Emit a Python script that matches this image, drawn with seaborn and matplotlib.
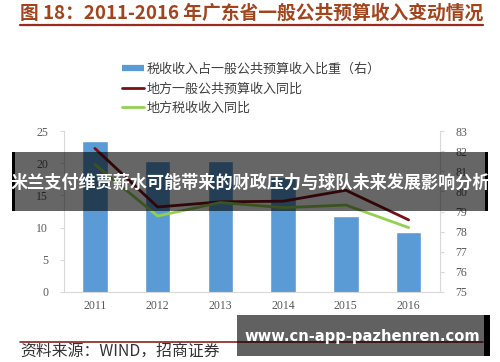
import numpy as np
import pandas as pd
import seaborn as sns
import matplotlib
matplotlib.use("Agg")
import matplotlib.pyplot as plt
from matplotlib.lines import Line2D
from matplotlib.patches import Rectangle

years = ["2011", "2012", "2013", "2014", "2015", "2016"]
tax_share = [82.5, 81.5, 81.5, 80.7, 78.8, 78.0]       # right axis, bars
general_yoy = [22.3, 13.2, 14.0, 14.1, 15.8, 11.2]     # left axis, dark red
tax_yoy = [19.8, 11.8, 13.9, 13.1, 13.5, 10.0]         # left axis, green
left_ticks = [0, 5, 10, 15, 20, 25]
right_ticks = [75, 76, 77, 78, 79, 80, 81, 82, 83]
legend_labels = ["税收收入占一般公共预算收入比重（右）", "地方一般公共预算收入同比", "地方税收收入同比"]
title = "图 18：2011-2016 年广东省一般公共预算收入变动情况"
source = "资料来源：WIND，招商证券"
banner = "米兰支付维贾薪水可能带来的财政压力与球队未来发展影响分析"
watermark = "www.cn-app-pazhenren.com"

df = pd.DataFrame({"year": years, "share": tax_share, "gen": general_yoy, "tax": tax_yoy})

sns.set_theme(style="white")
plt.rcParams["font.family"] = ["Noto Sans CJK SC", "DejaVu Sans"]

W, H = 500, 362
fig = plt.figure(figsize=(5, 3.62), dpi=100)
fig.patch.set_facecolor("white")

def fx(px):
    return px / W

def fy(py):
    return 1 - py / H

ax = fig.add_axes([fx(63.5), fy(292), fx(440) - fx(63.5), fy(131) - fy(292)])
ax2 = ax.twinx()

BLUE = "#5B9BD5"
RED = "#7A0F14"
GREEN = "#92D050"
GRAY = "#595959"
SPINE = "#D9D9D9"

sns.barplot(data=df, x="year", y="share", ax=ax2, color=BLUE, width=0.41,
            saturation=1, errorbar=None)
sns.pointplot(data=df, x="year", y="gen", ax=ax, color=RED, markersize=0,
              linewidth=2, errorbar=None)
sns.pointplot(data=df, x="year", y="tax", ax=ax, color=GREEN, markersize=0,
              linewidth=2, errorbar=None)

ax.set_zorder(ax2.get_zorder() + 1)
ax.patch.set_visible(False)

ax.set_xlim(-0.5, 5.5)
ax.set_ylim(0, 25)
ax2.set_ylim(75, 83)
ax.set_yticks(left_ticks)
ax2.set_yticks(right_ticks)
ax.set_xticks(range(len(years)))
ax.set_xticklabels(years)
ax.set_xlabel("")
ax.set_ylabel("")
ax2.set_xlabel("")
ax2.set_ylabel("")

serif = "Liberation Serif"
for a in (ax, ax2):
    for sp in a.spines.values():
        sp.set_color(SPINE)
        sp.set_linewidth(0.8)
    a.spines["top"].set_visible(False)
    a.tick_params(axis="y", colors=SPINE, labelcolor=GRAY, labelsize=8.5,
                  length=3, width=0.8, direction="out", pad=8)
    for lbl in a.get_yticklabels():
        lbl.set_fontfamily(serif)
ax.tick_params(axis="x", colors=SPINE, labelcolor=GRAY, labelsize=8.5,
               length=0, pad=6)
for lbl in ax.get_xticklabels():
    lbl.set_fontfamily(serif)
ax2.tick_params(axis="x", length=0, labelbottom=False)
ax.set_xticks(np.arange(-0.5, 6.0, 1.0), minor=True)
ax.tick_params(axis="x", which="minor", length=4, width=0.8, colors=SPINE, direction="out")
ax.spines["right"].set_visible(False)
ax2.spines["left"].set_visible(False)
ax2.spines["bottom"].set_visible(False)

# legend
handles = [Line2D([], [], color=BLUE, lw=4.5, solid_capstyle="butt"),
           Line2D([], [], color=RED, lw=2),
           Line2D([], [], color=GREEN, lw=2)]
fig.legend(handles, legend_labels, loc="upper left",
           bbox_to_anchor=(fx(122), fy(63)), frameon=False, fontsize=9.4,
           handlelength=1.7, handletextpad=0.2, labelspacing=0.5,
           labelcolor="#404040", borderaxespad=0, borderpad=0)

# title and rules
fig.text(fx(20), fy(13), title, fontsize=13.5, fontweight="bold",
         color="#A2441C", ha="left", va="center")
fig.add_artist(Line2D([fx(20), fx(483)], [fy(24.5), fy(24.5)], color="#9B2A1F", lw=1.6))
fig.add_artist(Line2D([fx(20), fx(483)], [fy(342.3), fy(342.3)], color="#8B2020", lw=1.2))
fig.text(fx(20), fy(352.5), source, fontsize=11.4, color="#333333", ha="left", va="center")

# overlay banner
fig.add_artist(Rectangle((fx(12), fy(211)), fx(488) - fx(12), fy(152) - fy(211),
                         transform=fig.transFigure, facecolor="black", alpha=0.6,
                         edgecolor="none", zorder=10))
fig.add_artist(Rectangle((fx(12), fy(211)), fx(3), fy(152) - fy(211),
                         transform=fig.transFigure, facecolor="black",
                         edgecolor="none", zorder=11))
fig.add_artist(Rectangle((fx(485), fy(211)), fx(3), fy(152) - fy(211),
                         transform=fig.transFigure, facecolor="black",
                         edgecolor="none", zorder=11))
fig.text(fx(250), fy(183), banner, fontsize=12.3, fontweight="bold", color="white",
         ha="center", va="center", zorder=12)

# watermark box
fig.add_artist(Rectangle((fx(237), fy(356)), fx(490) - fx(237), fy(315) - fy(356),
                         transform=fig.transFigure, facecolor="black", alpha=0.62,
                         edgecolor="none", zorder=10))
fig.add_artist(Rectangle((fx(484), fy(356)), fx(6), fy(315) - fy(356),
                         transform=fig.transFigure, facecolor="black",
                         edgecolor="none", zorder=11))
fig.text(fx(362), fy(337), watermark, fontsize=10.6, fontweight="bold", color="white",
         ha="center", va="center", zorder=12, family="DejaVu Sans")

fig.savefig("out.png", dpi=100)
